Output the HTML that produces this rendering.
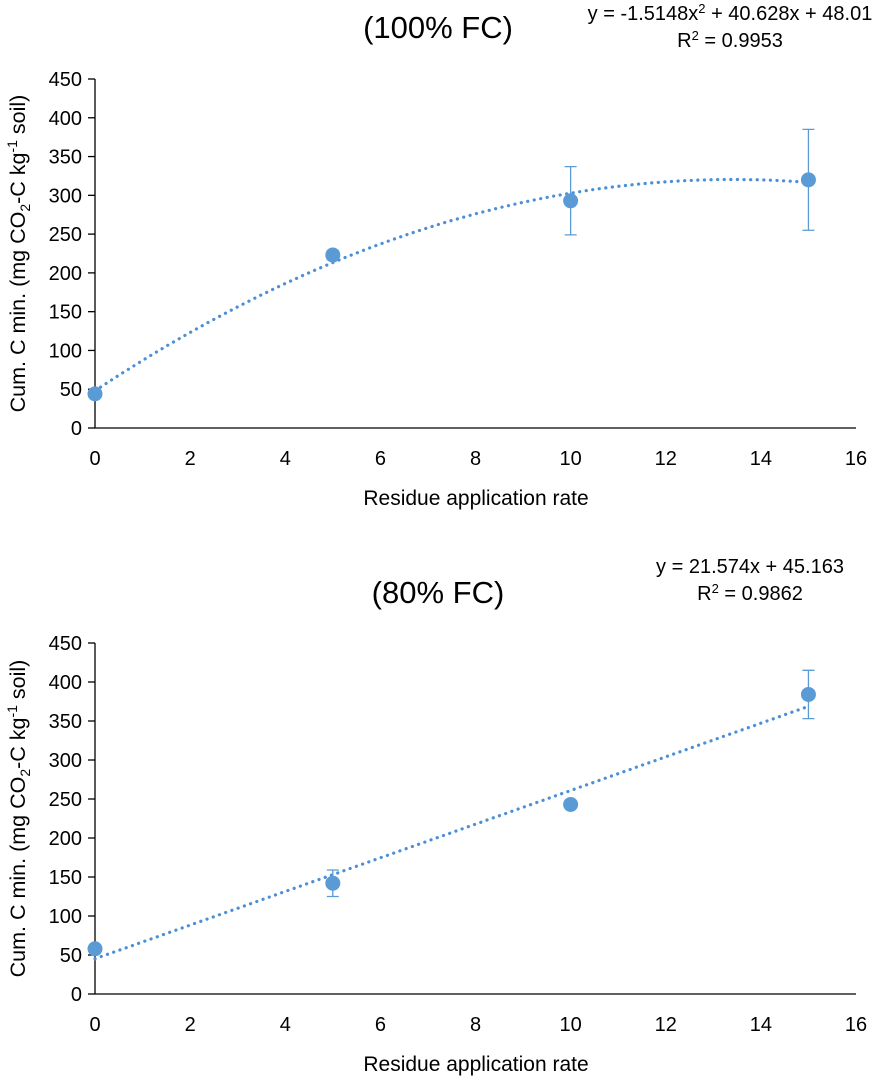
<!DOCTYPE html>
<html><head><meta charset="utf-8"><style>
body{margin:0;background:#fff;}
svg{display:block;font-family:"Liberation Sans",sans-serif;}
</style></head><body>
<svg id="c" width="891" height="1079" viewBox="0 0 891 1079"></svg>
<script>
const xTicks=[0,2,4,6,8,10,12,14,16];
const yTicks=[0,50,100,150,200,250,300,350,400,450];
const xVals=[0,5,10,15];
const top100=[44,223,293,320];
const top100Err=[0,6,44,65];
const bot80=[58,142,243,384];
const bot80Err=[0,17,0,31];
const quadCoef=[-1.5148,40.628,48.01];
const linCoef=[21.574,45.163];
const NS="http://www.w3.org/2000/svg";
const svg=document.getElementById('c');
const blue="#5b9bd5";
function el(t,a,p){const e=document.createElementNS(NS,t);for(const k in a)e.setAttribute(k,a[k]);(p||svg).appendChild(e);return e;}
function panel(cfg){
  const g=el('g',{});
  
  
  const x0=95,x1=856,y0=cfg.y0,y1=cfg.y1;
  const sx=v=>x0+(v-0)/16*(x1-x0);
  const sy=v=>y0-(v/450)*(y0-y1);
  const ax=el('line',{x1:x0,y1:y0,x2:x1,y2:y0,stroke:'#000','stroke-width':1.3},g);
  
  const ay=el('line',{x1:x0,y1:y0,x2:x0,y2:y1,stroke:'#000','stroke-width':1.3},g);
  
  yTicks.forEach(v=>{
    el('line',{x1:x0-7,y1:sy(v),x2:x0,y2:sy(v),stroke:'#000','stroke-width':1.3},g);
    const t=el('text',{x:x0-13,y:sy(v)+7,'font-size':20,'text-anchor':'end',fill:'#000'},g);
    t.textContent=v;
    
  });
  xTicks.forEach(v=>{
    const t=el('text',{x:sx(v),y:y0+37,'font-size':20,'text-anchor':'middle',fill:'#000'},g);
    t.textContent=v;
    
  });
  const xt=el('text',{x:476,y:y0+77,'font-size':21,'text-anchor':'middle'},g);
  xt.textContent='Residue application rate';
  
  const yt=el('text',{transform:`translate(25,${(y0+y1)/2}) rotate(-90)`,'font-size':21.5,'text-anchor':'middle'},g);
  yt.innerHTML='Cum. C min. (mg CO<tspan font-size="14" dy="5">2</tspan><tspan dy="-5">-C kg</tspan><tspan font-size="14" dy="-8">-1</tspan><tspan dy="8"> soil)</tspan>';
  
  const tt=el('text',{x:438,y:cfg.titleY,'font-size':31,'text-anchor':'middle'},g);
  tt.textContent=cfg.title;
  
  cfg.eq.forEach((s,i)=>{
    const e=el('text',{x:cfg.eqX,y:cfg.eqY+i*27,'font-size':20,'text-anchor':'middle'},g);
    e.innerHTML=s;
    
  });
  let d='';
  for(let i=0;i<=100;i++){const x=15*i/100;d+=(i?'L':'M')+sx(x).toFixed(1)+','+sy(cfg.fit(x)).toFixed(1);}
  const tl=el('path',{d:d,fill:'none',stroke:'#4a8fd8','stroke-width':3.2,'stroke-dasharray':'0.1 6.5','stroke-linecap':'round'},g);
  
  xVals.forEach((xv,i)=>{
    const v=cfg.vals[i],e=cfg.err[i];
    if(e>0){
      const eb=el('path',{d:`M${sx(xv)},${sy(v-e)}V${sy(v+e)}M${sx(xv)-6},${sy(v-e)}h12M${sx(xv)-6},${sy(v+e)}h12`,stroke:blue,'stroke-width':1.3,fill:'none'},g);
      
    }
    const c=el('circle',{cx:sx(xv),cy:sy(v),r:7.5,fill:blue},g);
    
  });
}
panel({name:'chart-100-fc',y0:428,y1:79,title:'(100% FC)',titleY:38,eqX:730,eqY:20,
  eq:['y = -1.5148x<tspan font-size="13" dy="-7">2</tspan><tspan dy="7"> + 40.628x + 48.01</tspan>','R<tspan font-size="13" dy="-7">2</tspan><tspan dy="7"> = 0.9953</tspan>'],
  vals:top100,err:top100Err,fit:x=>quadCoef[0]*x*x+quadCoef[1]*x+quadCoef[2]});
panel({name:'chart-80-fc',y0:994,y1:643,title:'(80% FC)',titleY:603,eqX:750,eqY:573,
  eq:['y = 21.574x + 45.163','R<tspan font-size="13" dy="-7">2</tspan><tspan dy="7"> = 0.9862</tspan>'],
  vals:bot80,err:bot80Err,fit:x=>linCoef[0]*x+linCoef[1]});
</script>
</body></html>
